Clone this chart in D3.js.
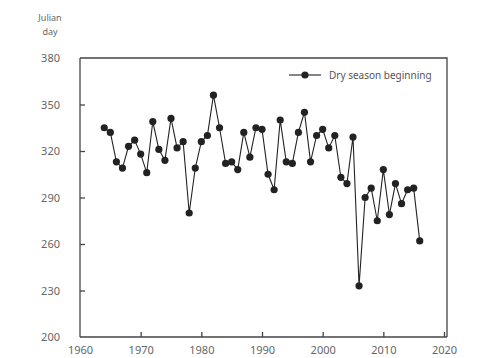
<!DOCTYPE html>
<html>
<head>
<meta charset="utf-8">
<script src="https://d3js.org/d3.v7.min.js"></script>
<style>
  body { margin: 0; background: #fff; }
  text { font-family: "Noto Sans", "DejaVu Sans", sans-serif; }
</style>
</head>
<body>
<script>
// data
const years = d3.range(1964, 2017)
const dryStart = [335, 332, 313, 309, 323, 327, 318, 306, 339, 321,
                  314, 341, 322, 326, 280, 309, 326, 330, 356, 335,
                  312, 313, 308, 332, 316, 335, 334, 305, 295, 340,
                  313, 312, 332, 345, 313, 330, 334, 322, 330, 303,
                  299, 329, 233, 290, 296, 275, 308, 279, 299, 286,
                  295, 296, 262]
const xTicks = [1960, 1970, 1980, 1990, 2000, 2010, 2020]
const yTicks = [200, 230, 260, 290, 320, 350, 380]
const seriesName = "Dry season beginning"

var width = 484, height = 358
var mLeft = 80, mRight = 447, mTop = 58, mBottom = 337

var svg = d3.select("body")
            .append("svg")
            .attr("width", width)
            .attr("height", height)

var xscale = d3.scaleLinear()
               .domain([1960, 2020])
               .range([mLeft, 444])

var yscale = d3.scaleLinear()
               .domain([200, 380])
               .range([mBottom, mTop])

// frame (top and right)
svg.append("path")
   .attr("d", `M${mLeft},${mTop}H${mRight}V${mBottom}`)
   .attr("fill", "none")
   .attr("stroke", "#444")
   .attr("stroke-width", 1.3)

// axes with inward ticks
var y_axis = d3.axisLeft(yscale)
               .tickValues(yTicks)
               .tickSize(-5)
               .tickPadding(20)

var x_axis = d3.axisBottom(xscale)
               .tickValues(xTicks)
               .tickFormat(d3.format("d"))
               .tickSize(-5)
               .tickPadding(9)

var gy = svg.append("g")
   .attr("transform", `translate(${mLeft},0)`)
   .call(y_axis)

var gx = svg.append("g")
   .attr("transform", `translate(0,${mBottom})`)
   .call(x_axis)

gy.select(".domain").attr("d", `M0,${mTop}V${mBottom}`)
gx.select(".domain").attr("d", `M${mLeft},0H${mRight}`)

// hide end ticks on the frame corners
gy.selectAll(".tick").filter(d => d == 200 || d == 380).select("line").remove()
gx.selectAll(".tick").filter(d => d == 1960).select("line").remove()

for (const g of [gx, gy]) {
  g.select(".domain").attr("stroke", "#444").attr("stroke-width", 1.3)
  g.selectAll(".tick line").attr("stroke", "#444").attr("stroke-width", 1.3)
  g.selectAll(".tick text")
   .attr("fill", "#666")
   .attr("font-size", 11)
   .attr("font-family", "'Noto Sans', sans-serif")
}

// y axis title
svg.append("text")
   .attr("x", 50).attr("y", 21)
   .attr("text-anchor", "middle")
   .attr("font-size", 9)
   .attr("fill", "#666")
   .text("Julian")
svg.append("text")
   .attr("x", 50).attr("y", 35)
   .attr("text-anchor", "middle")
   .attr("font-size", 9)
   .attr("fill", "#666")
   .text("day")

var pts = years.map((y, i) => [y, dryStart[i]])

var line = d3.line()
             .x(d => xscale(d[0]))
             .y(d => yscale(d[1]))

svg.append("path")
   .datum(pts)
   .attr("d", line)
   .attr("fill", "none")
   .attr("stroke", "#222")
   .attr("stroke-width", 1.1)

svg.selectAll("circle.pt")
   .data(pts)
   .enter()
   .append("circle")
   .attr("class", "pt")
   .attr("cx", d => xscale(d[0]))
   .attr("cy", d => yscale(d[1]))
   .attr("r", 3.6)
   .attr("fill", "#222")

// legend
var lg = svg.append("g").attr("transform", "translate(289,75)")
lg.append("line")
  .attr("x1", 0).attr("x2", 32)
  .attr("stroke", "#222").attr("stroke-width", 1.1)
lg.append("circle")
  .attr("cx", 16).attr("r", 3.6).attr("fill", "#222")
lg.append("text")
  .attr("x", 40).attr("y", 4)
  .attr("font-size", 10)
  .attr("fill", "#555")
  .text(seriesName)
</script>
</body>
</html>
